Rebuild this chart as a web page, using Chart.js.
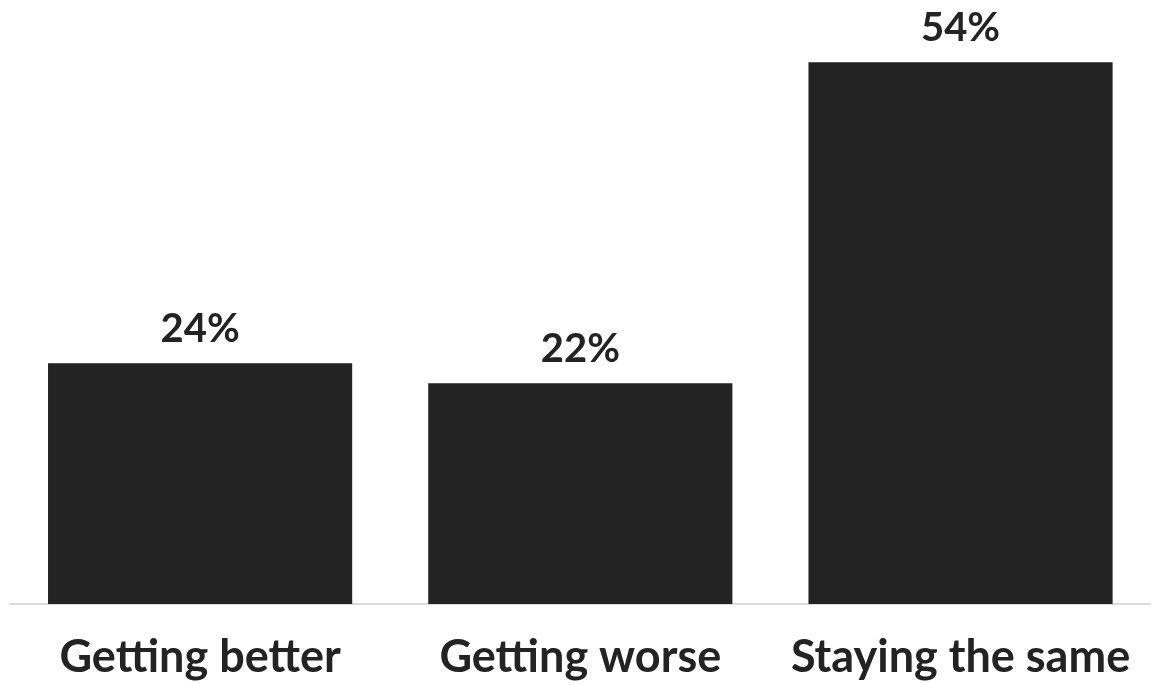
<!DOCTYPE html>
<html>
<head>
<meta charset="utf-8">
<script src="https://cdn.jsdelivr.net/npm/chart.js@4/dist/chart.umd.min.js"></script>
<style>
    html, body { margin: 0; padding: 0; background: #fff; }
    #wrap { width: 1162px; height: 685px; }
</style>
</head>
<body>
<div id="wrap"><canvas id="chart"></canvas></div>
<script>
const categories = ["Getting better", "Getting worse", "Staying the same"];
const shares = [24, 22, 54];

const barColor = "#232323";
const fontFamily = "Lato, 'Open Sans', sans-serif";

// draws the % values above each bar
const valueLabels = {
    id: "valueLabels",
    afterDatasetsDraw(chart) {
        const ctx = chart.ctx;
        const meta = chart.getDatasetMeta(0);
        ctx.save();
        ctx.font = "bold 40px " + fontFamily;
        ctx.fillStyle = barColor;
        ctx.textAlign = "center";
        ctx.textBaseline = "alphabetic";
        meta.data.forEach((bar, i) => {
            ctx.fillText(shares[i] + "%", bar.x, bar.y - 21);
        });
        ctx.restore();
    }
};

new Chart(document.getElementById("chart"), {
    type: "bar",
    data: {
        labels: categories,
        datasets: [{
            data: shares,
            backgroundColor: barColor,
            barPercentage: 0.8,
            categoryPercentage: 1
        }]
    },
    options: {
        responsive: true,
        maintainAspectRatio: false,
        animation: false,
        layout: {
            padding: { top: 2, left: 10, right: 11, bottom: 0 }
        },
        scales: {
            y: {
                display: false,
                min: 0,
                max: 60
            },
            x: {
                grid: { display: false, drawTicks: false },
                border: { color: "#dcdcdc", width: 2 },
                ticks: {
                    color: barColor,
                    padding: 30,
                    font: { size: 45, weight: "bold", family: fontFamily, lineHeight: 1.05 }
                },
                afterFit(scale) {
                    scale.height = 81;
                }
            }
        },
        plugins: {
            legend: { display: false },
            tooltip: { enabled: false }
        }
    },
    plugins: [valueLabels]
});
</script>
</body>
</html>
